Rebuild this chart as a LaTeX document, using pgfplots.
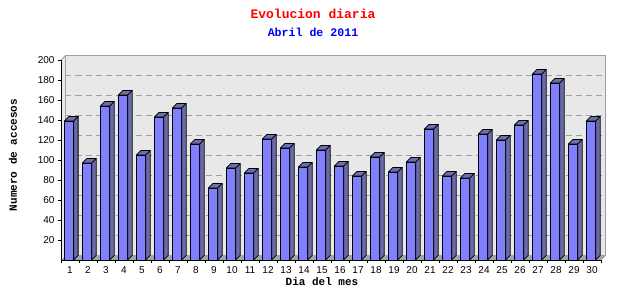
\documentclass[border=0pt]{standalone}
\usepackage{pgfplots}
\usepackage{pgfplotstable}
\pgfplotsset{compat=1.18}
\usepackage{fontspec}
\setmainfont{Liberation Sans}
\newfontfamily\monofnt{Liberation Mono}
\definecolor{wallc}{HTML}{E8E8E8}
\definecolor{wallb}{HTML}{A0A0A0}
\definecolor{floorc}{HTML}{A4A4A4}
\definecolor{barfront}{HTML}{8080FF}
\definecolor{barside}{HTML}{6A6AA6}
\definecolor{bartop}{HTML}{6E6EAE}
\pgfdeclareplotmark{empty3d}{}
\pgfplotstableread{
day visits
1 139
2 97
3 154
4 165
5 105
6 143
7 152
8 116
9 72
10 92
11 87
12 121
13 112
14 93
15 110
16 94
17 84
18 103
19 88
20 98
21 131
22 84
23 82
24 126
25 120
26 135
27 186
28 177
29 116
30 139
}\visits
\begin{document}
\begin{tikzpicture}
\begin{axis}[
  set layers,
  x=18pt, y=1pt,
  xmin=0.5, xmax=30.5, ymin=0, ymax=200,
  axis lines=left,
  every outer x axis line/.append style={-},
  every outer y axis line/.append style={-},
  axis line style={black, line width=0.8pt},
  clip=false,
  tick align=outside,
  major tick length=3pt,
  minor tick length=3pt,
  xtick={1,...,30},
  major x tick style={draw=none},
  minor xtick={0.5,1.5,...,30.5},
  minor x tick style={black, line width=0.8pt},
  ytick={20,40,...,200},
  major y tick style={black, line width=0.8pt},
  /pgf/number format/assume math mode=true,
  ticklabel style={font=\fontsize{10}{12}\selectfont},
  xlabel={Dia del mes},
  ylabel={Numero de accesos},
  label style={font=\monofnt\bfseries\fontsize{11}{13}\selectfont},
  xlabel style={at={(axis description cs:0.4833,-0.11)}, anchor=center},
  ylabel style={at={(axis description cs:-0.0889,0.525)}, anchor=center},
]
\begin{pgfonlayer}{axis background}
  \fill[wallc] (axis cs:0.5,0) -- (axis cs:0.5,200) -- ([shift={(4.5pt,4.5pt)}]axis cs:0.5,200) -- ([shift={(4.5pt,4.5pt)}]axis cs:0.5,0) -- cycle;
  \filldraw[fill=wallc, draw=wallb, line width=0.8pt] ([shift={(4.5pt,4.5pt)}]axis cs:0.5,0) rectangle ([shift={(4.5pt,4.5pt)}]axis cs:30.5,200);
  \pgfplotsinvokeforeach{20,40,...,180}{
    \draw[wallb, line width=0.8pt, dash pattern=on 6pt off 4pt] ([shift={(4.5pt,4.5pt)}]axis cs:0.5,#1) -- ([shift={(4.5pt,4.5pt)}]axis cs:30.5,#1);
  }
  \fill[floorc] (axis cs:0.5,0) -- (axis cs:30.5,0) -- ([shift={(4.5pt,4.5pt)}]axis cs:30.5,0) -- ([shift={(4.5pt,4.5pt)}]axis cs:0.5,0) -- cycle;
  \draw[wallb, line width=0.8pt] (axis cs:0.5,200) -- ([shift={(4.5pt,4.5pt)}]axis cs:0.5,200);
  \draw[wallb, line width=0.8pt] (axis cs:30.5,0) -- ([shift={(4.5pt,4.5pt)}]axis cs:30.5,0);
\end{pgfonlayer}
\addplot[scatter, only marks, mark=empty3d,
  visualization depends on={\thisrow{visits} \as \yv},
  scatter/@pre marker code/.code={%
    \pgfmathfloatparsenumber{\yv}%
    \pgfmathfloattofixed{\pgfmathresult}%
    \let\hv\pgfmathresult
    \pgfmathsetlengthmacro\hlen{\hv*1pt}%
    \pgfmathsetlengthmacro\hlenb{4.5pt-\hv*1pt}%
    \filldraw[fill=barside, draw=black, line width=0.8pt, line join=round]
      (3.65pt,0pt) -- (8.15pt,4.5pt) -- (8.15pt,\hlenb) -- (3.65pt,-\hlen) -- cycle;
    \filldraw[fill=bartop, draw=black, line width=0.8pt, line join=round]
      (-5.65pt,0pt) -- (3.65pt,0pt) -- (8.15pt,4.5pt) -- (-1.15pt,4.5pt) -- cycle;
  },
  scatter/@post marker code/.code={}
] table[x=day, y=visits] {\visits};
\addplot[ybar, bar width=9.3pt, bar shift=-1pt, fill=barfront, draw=black, line width=0.8pt]
  table[x=day, y=visits] {\visits};
\end{axis}
\node[font=\monofnt\bfseries\fontsize{13}{15}\selectfont, text=red] at (252pt,246pt) {Evolucion diaria};
\node[font=\monofnt\bfseries\fontsize{11.6}{14}\selectfont, text=blue] at (252pt,228pt) {Abril de 2011};
\path (-61pt,-40pt) rectangle (579pt,260pt);
\end{tikzpicture}
\end{document}
